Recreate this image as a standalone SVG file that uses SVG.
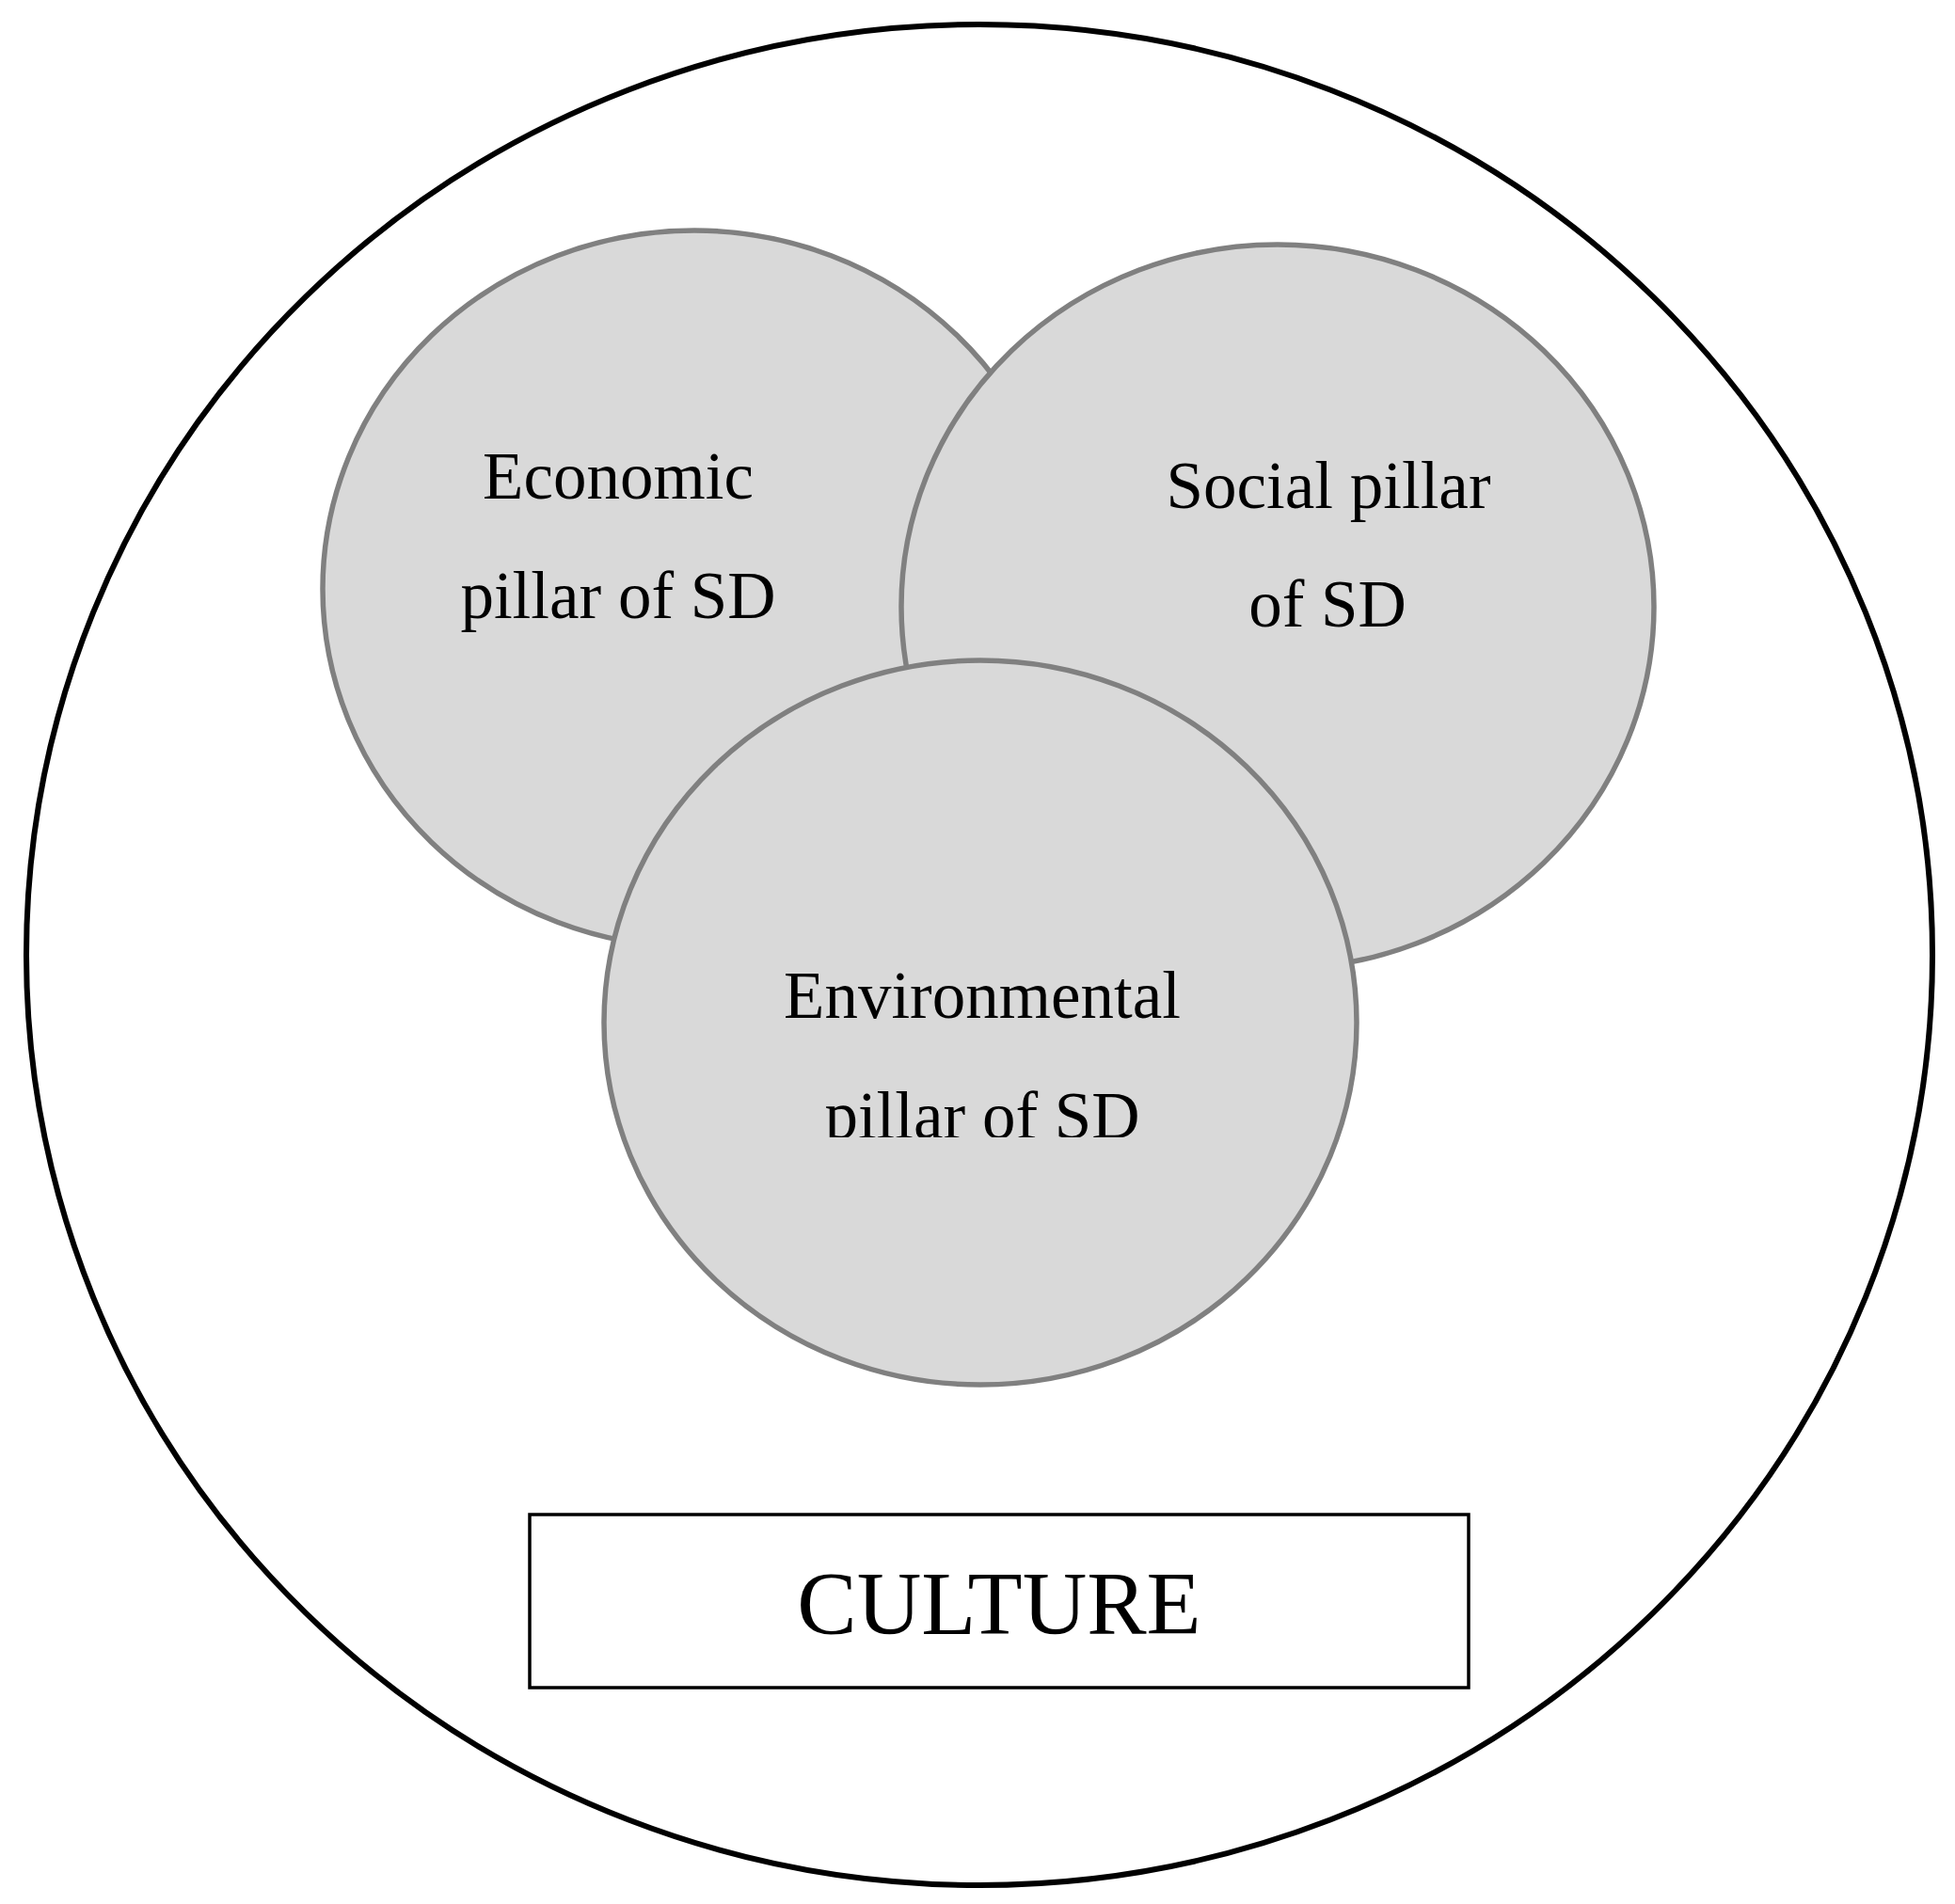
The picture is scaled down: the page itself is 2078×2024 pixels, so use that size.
<svg xmlns="http://www.w3.org/2000/svg" width="2078" height="2024" viewBox="0 0 2078 2024">
  <style>
    .pillar { fill: #d9d9d9; stroke: #808080; stroke-width: 5.5; }
    .lbl { font-family: "Liberation Serif", "Times New Roman", serif; font-size: 71px; fill: #000; text-anchor: middle; }
    .big { font-family: "Liberation Serif", "Times New Roman", serif; font-size: 95px; fill: #000; text-anchor: middle; }
  </style>
  <defs>
    <clipPath id="envClip">
      <rect x="0" y="0" width="2078" height="1209"/>
    </clipPath>
  </defs>
  <rect width="2078" height="2024" fill="#fff"/>
  <g id="culture-circle">
    <ellipse cx="1041" cy="1015" rx="1013" ry="989" fill="#fff" stroke="#000" stroke-width="6"/>
  </g>
  <g id="economic">
    <ellipse class="pillar" cx="738" cy="626" rx="395" ry="381"/>
    <text class="lbl" x="657" y="530">Economic</text>
    <text class="lbl" x="657" y="657">pillar of SD</text>
  </g>
  <g id="social">
    <ellipse class="pillar" cx="1358" cy="645" rx="400" ry="385"/>
    <text class="lbl" x="1412" y="540">Social pillar</text>
    <text class="lbl" x="1411" y="666">of SD</text>
  </g>
  <g id="environmental">
    <ellipse class="pillar" cx="1042" cy="1087" rx="400" ry="385"/>
    <text class="lbl" x="1044" y="1082">Environmental</text>
    <text class="lbl" x="1044" y="1210" clip-path="url(#envClip)">pillar of SD</text>
  </g>
  <g id="culture-label">
    <rect x="563" y="1610" width="998" height="184" fill="#fff" stroke="#000" stroke-width="3.5"/>
    <text class="big" x="1062" y="1737">CULTURE</text>
  </g>
  <g id="connectors"></g>
</svg>
